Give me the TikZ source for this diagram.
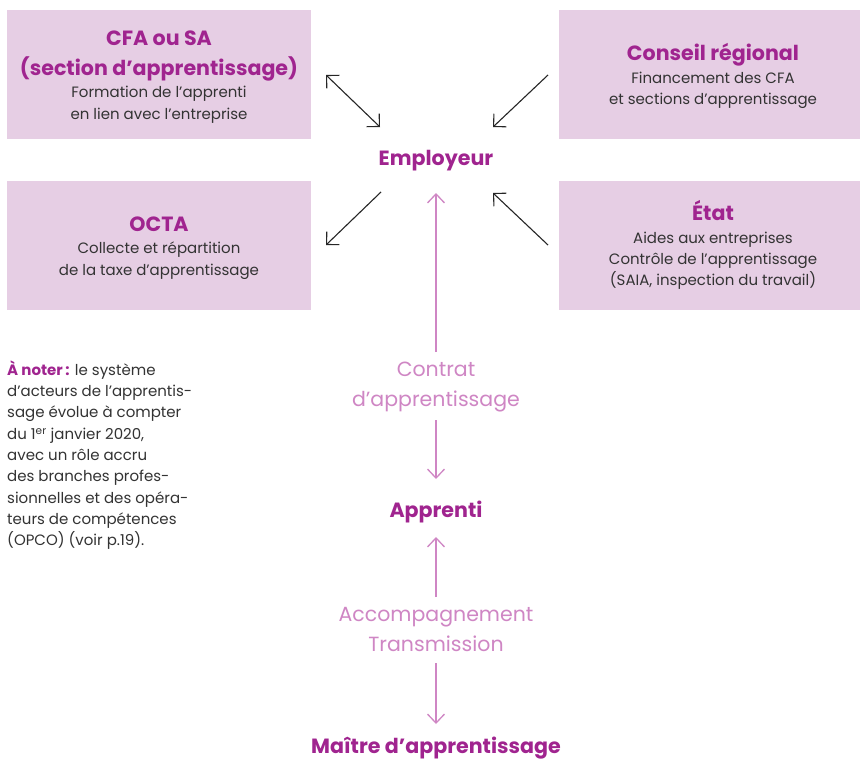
\documentclass[tikz,border=0pt]{standalone}
\usepackage{fontspec}
\setmainfont{Poppins}
\usetikzlibrary{arrows.meta}

\definecolor{prune}{HTML}{A0248F}
\definecolor{mauve}{HTML}{E6CEE4}
\definecolor{rose}{HTML}{CF86C4}
\definecolor{gristexte}{HTML}{333333}

\tikzset{
  acteur/.style={fill=mauve, minimum width=304pt, minimum height=129pt, inner sep=0pt},
  titre/.style={anchor=base, text=prune, font=\bfseries\fontsize{20.6}{24}\selectfont},
  corps/.style={anchor=base, text=gristexte, font=\fontsize{15}{18}\selectfont},
  legende/.style={anchor=base, text=rose, font=\fontsize{20.5}{24}\selectfont},
  flux/.style={draw=black!85, line width=1.1pt, -{Straight Barb[length=9pt,width=18pt]}},
  flux rose/.style={draw=rose, line width=1.3pt, -{Straight Barb[length=9pt,width=17pt]}}
}

\begin{document}
\begin{tikzpicture}[x=1pt, y=-1pt]
        \useasboundingbox[fill=white] (0,0) rectangle (860,760);

        % les quatre acteurs
        \node[acteur] (cfa) at (159,74.5) {};
        \node[acteur] (octa) at (159,245.5) {};
        \node[acteur] (region) at (711,74.5) {};
        \node[acteur] (etat) at (711,245.5) {};

        \node[titre] at (159,45.7) {CFA ou SA};
        \node[titre] at (159,76) {(section d’apprentissage)};
        \node[corps] at (159,97.7) {Formation de l’apprenti};
        \node[corps] at (159,119) {en lien avec l’entreprise};

        \node[titre] at (159,231.7) {OCTA};
        \node[corps] at (159,253) {Collecte et répartition};
        \node[corps] at (159,275) {de la taxe d’apprentissage};

        \node[titre] at (713,61) {Conseil régional};
        \node[corps] at (713,83.3) {Financement des CFA};
        \node[corps] at (713,104.3) {et sections d’apprentissage};

        \node[titre] at (713,220.7) {État};
        \node[corps] at (713,243.3) {Aides aux entreprises};
        \node[corps] at (713,264.3) {Contrôle de l’apprentissage};
        \node[corps] at (713,285) {(SAIA, inspection du travail)};

        % colonne centrale
        \node[titre] (employeur) at (436,165) {Employeur};
        \node[legende] (contrat) at (436,376.7) {Contrat};
        \node[legende] at (436,406.7) {d’apprentissage};
        \node[titre] (apprenti) at (436,517.7) {Apprenti};
        \node[legende] (accomp) at (436,621.7) {Accompagnement};
        \node[legende] at (436,651.7) {Transmission};
        \node[titre] (maitre) at (436,753.5) {Maître d’apprentissage};

        % note
        \node[anchor=north west, inner sep=0pt, align=left, text=gristexte,
              font=\fontsize{15}{21.3}\selectfont] (note) at (7,360.5)
          {\textcolor{prune}{\bfseries À noter\,:} le système\\
           d’acteurs de l’apprentis-\\
           sage évolue à compter\\
           du 1\textsuperscript{er} janvier 2020,\\
           avec un rôle accru\\
           des branches profes-\\
           sionnelles et des opéra-\\
           teurs de compétences\\
           (OPCO) (voir p.19).};

        % extremites des fleches
        \coordinate (C1) at (326,75);
        \coordinate (C2) at (380,127);
        \coordinate (R1) at (548,75);
        \coordinate (R2) at (493,127);
        \coordinate (O1) at (381,192);
        \coordinate (O2) at (326,245);
        \coordinate (E1) at (548,245);
        \coordinate (E2) at (493,193);

        \draw[flux, {Straight Barb[length=9pt,width=18pt]}-{Straight Barb[length=9pt,width=18pt]}] (C1) -- (C2);
        \draw[flux] (R1) -- (R2);
        \draw[flux] (O1) -- (O2);
        \draw[flux] (E1) -- (E2);

        \coordinate (V1) at (436,352);
        \coordinate (V2) at (436,193);
        \coordinate (V3) at (436,420);
        \coordinate (V4) at (436,479);
        \coordinate (V5) at (436,597);
        \coordinate (V6) at (436,537);
        \coordinate (V7) at (436,663);
        \coordinate (V8) at (436,724);

        \draw[flux rose] (V1) -- (V2);
        \draw[flux rose] (V3) -- (V4);
        \draw[flux rose] (V5) -- (V6);
        \draw[flux rose] (V7) -- (V8);

    \end{tikzpicture}
\end{document}
